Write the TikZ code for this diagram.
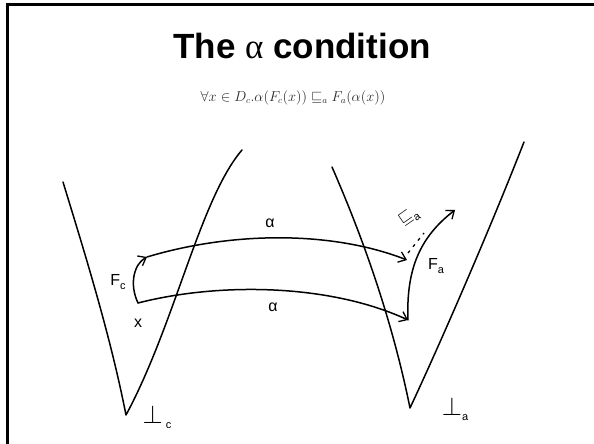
\documentclass[tikz,border=0pt]{standalone}
\usepackage{amsmath}
\usepackage{amssymb}
\usepackage[no-math]{fontspec}
\usetikzlibrary{arrows.meta}
\newfontfamily\titlefont{Liberation Sans}
\newfontfamily\greekfont{Liberation Serif}
\newfontfamily\handfont{Liberation Sans}
\definecolor{inkblack}{RGB}{0,0,0}
\definecolor{mathgray}{RGB}{40,40,40}
\newcommand{\lowsub}[1]{\raisebox{-0.55ex}{\fontsize{11}{11}\selectfont #1}}
\newcommand{\bigbot}{\scalebox{1.5}{$\bot$}}
\tikzset{
  frame/.style   ={line width=3pt, draw=inkblack},
  domline/.style ={line width=1.5pt, draw=inkblack, line cap=round, line join=round},
  absmap/.style  ={line width=1.5pt, draw=inkblack, line cap=round, -{Straight Barb[length=7pt,width=11pt,line width=1.3pt]}},
  order/.style   ={line width=1.3pt, draw=inkblack, dash pattern=on 3pt off 5pt},
  titletext/.style={font=\titlefont\bfseries\fontsize{35}{40}\selectfont, text=inkblack},
  formula/.style ={font=\fontsize{13.5}{16}\selectfont, text=mathgray},
  hand/.style    ={font=\handfont\fontsize{16}{18}\selectfont, text=inkblack, inner sep=1pt},
}

\begin{document}
\begin{tikzpicture}[x=1pt,y=1pt]
\useasboundingbox (0,0) rectangle (594,444);
% slide frame
\draw[frame] (7.5,0) -- (7.5,439.5) -- (594,439.5);
\node[titletext, anchor=base] (title) at (302,385) {The {\greekfont\mdseries α} condition};
\node[formula] (cond) at (293,346) {$\forall x \in D_c.\alpha(F_c(x)) \sqsubseteq_a F_a(\alpha(x))$};
% concrete domain
\draw[domline] (63,262) .. controls (85,190) and (110,110) .. (126,29)
               .. controls (175,120) and (200,245) .. (242,294);
% abstract domain
\draw[domline] (332,277) .. controls (370,190) and (395,110) .. (410,36)
               .. controls (440,100) and (490,215) .. (524,302);
% points
\coordinate (x) at (138,141);
\coordinate (fcx) at (147,187);
\coordinate (ax) at (408,124);
\coordinate (afcx) at (407,184);
\coordinate (faax) at (455,234);
\coordinate (ordlo) at (408,191);
\coordinate (ordhi) at (424,211);
% maps
\draw[absmap] (x) .. controls (129,160) and (134,180) .. (fcx);
\draw[absmap] (fcx) .. controls (230,212) and (330,214) .. (afcx);
\draw[absmap] (x) .. controls (220,162) and (330,160) .. (ax);
\draw[absmap] (ax) .. controls (406,175) and (420,207) .. (faax);
\draw[order] (ordlo) -- (ordhi);
% labels
\node[hand] (lfc) at (118,162) {F\lowsub{c}};
\node[hand] (lx) at (138,121) {x};
\node[hand] (la1) at (270,221) {α};
\node[hand] (la2) at (273,137) {α};
\node[hand] (lfa) at (436,178) {F\lowsub{a}};
\node[hand, rotate=35] (lord) at (409,227) {$\sqsubseteq$\lowsub{a}};
\node[hand] (lbc) at (157,27) {\bigbot\lowsub{\ c}};
\node[hand] (lba) at (455,35) {\bigbot\lowsub{a}};
\end{tikzpicture}
\end{document}
